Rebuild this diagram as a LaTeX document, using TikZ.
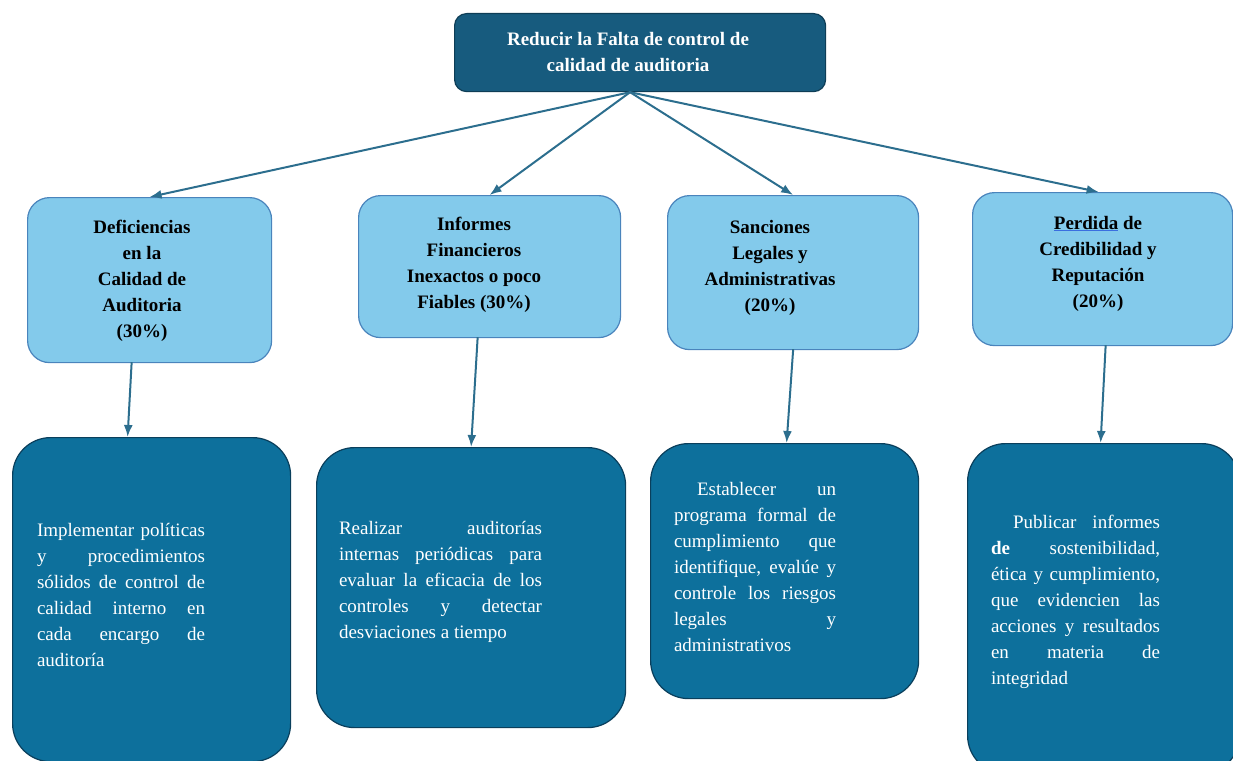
\documentclass[tikz,border=0pt]{standalone}
\usepackage{fontspec}
\setmainfont{Liberation Serif}
\usepackage{xcolor}
\usetikzlibrary{arrows.meta}
\tolerance=10000
\hyphenpenalty=10000
\exhyphenpenalty=10000

\begin{document}
\begin{tikzpicture}[x=1pt,y=-1pt,line cap=rect,
  goalbox/.style={draw=custcol_0e_3d_56, fill=custcol_17_5b_7e, line width=1.2pt, rounded corners=12pt, anchor=north west, inner sep=0},
  causebox/.style={draw=custcol_4a_84_bc, fill=custcol_83_ca_eb, line width=1.2pt, rounded corners=22pt, anchor=north west, inner sep=0},
  actionbox/.style={draw=custcol_0a_3f_5c, fill=custcol_0d_70_9c, line width=1.2pt, rounded corners=38pt, anchor=north west, inner sep=0},
  headtext/.style={inner sep=0, outer sep=0, font=\fontsize{19pt}{26pt}\selectfont\bfseries, align=center, anchor=base},
  bodytext/.style={inner sep=0, outer sep=0, white, font=\fontsize{19pt}{26pt}\selectfont, align=justify, anchor=base west},
  link/.style={custcol_2c_6e_8e, line width=2pt, -{Latex[length=12pt,width=9pt]}}]
\definecolor{custcol_0e_3d_56}{RGB}{14, 61, 86}
\definecolor{custcol_17_5b_7e}{RGB}{23, 91, 126}
\definecolor{custcol_4a_84_bc}{RGB}{74, 132, 188}
\definecolor{custcol_83_ca_eb}{RGB}{131, 202, 235}
\definecolor{custcol_0a_3f_5c}{RGB}{10, 63, 92}
\definecolor{custcol_0d_70_9c}{RGB}{13, 112, 156}
\definecolor{custcol_2c_6e_8e}{RGB}{44, 110, 142}
\definecolor{custcol_3a_6e_e0}{RGB}{58, 110, 224}
\useasboundingbox (0,0) rectangle (1233,760);
\clip (0,0) rectangle (1233,760);
% boxes
\node[goalbox, minimum width=371pt, minimum height=78pt] (meta) at (454,13) {};
\node[causebox, minimum width=244pt, minimum height=165pt] (b1) at (27,197) {};
\node[causebox, minimum width=262pt, minimum height=142pt] (b2) at (358,195) {};
\node[causebox, minimum width=251pt, minimum height=154pt] (b3) at (667,195) {};
\node[causebox, minimum width=260pt, minimum height=153pt] (b4) at (972,192) {};
\node[actionbox, minimum width=278pt, minimum height=324pt] (c1) at (12,437) {};
\node[actionbox, minimum width=309pt, minimum height=280pt] (c2) at (316,447) {};
\node[actionbox, minimum width=268pt, minimum height=255pt] (c3) at (650,443) {};
\node[actionbox, minimum width=272pt, minimum height=330pt] (c4) at (967,443) {};
% texts (base = last line)
\node[headtext, white] (metatxt) at (628,71) {Reducir la Falta de control de\\calidad de auditoria};
\node[headtext] (b1txt) at (142,337) {Deficiencias\\en la\\Calidad de\\Auditoria\\(30\%)};
\node[headtext] (b2txt) at (474,308) {Informes\\Financieros\\Inexactos o poco\\Fiables (30\%)};
\node[headtext] (b3txt) at (770,311) {Sanciones\\Legales y\\Administrativas\\(20\%)};
\node[headtext] (b4txt) at (1098,307) {{\color{custcol_3a_6e_e0}\underline{\color{black}Perdida}} de\\Credibilidad y\\Reputación\\(20\%)};
\node[bodytext, text width=168pt] (c1txt) at (37,536) {Implementar políticas\linebreak y procedimientos\linebreak sólidos de control de\linebreak calidad interno en\linebreak cada encargo de\linebreak auditoría};
\node[bodytext, text width=203pt] (c2txt) at (339,534) {Realizar auditorías\linebreak internas periódicas para\linebreak evaluar la eficacia de los\linebreak controles y detectar\linebreak desviaciones a tiempo};
\node[bodytext, text width=162pt] (c3txt) at (674,495) {\hspace*{23pt}Establecer un\linebreak programa formal de\linebreak cumplimiento que\linebreak identifique, evalúe y\linebreak controle los riesgos\linebreak legales y\linebreak administrativos};
\node[bodytext, text width=169pt] (c4txt) at (991,528) {\hspace*{22pt}Publicar informes\linebreak \textbf{de} sostenibilidad,\linebreak ética y cumplimiento,\linebreak que evidencien las\linebreak acciones y resultados\linebreak en materia de\linebreak integridad};
% connectors
\draw[link] ([xshift=-10pt]meta.south) -- (b1.north);
\draw[link] ([xshift=-10pt]meta.south) -- (b2.north);
\draw[link] ([xshift=-10pt]meta.south) -- (b3.north);
\draw[link] ([xshift=-10pt]meta.south) -- ([xshift=-4pt]b4.north);
\draw[link] ([xshift=-18pt]b1.south) -- ([xshift=-24pt]c1.north);
\draw[link] ([xshift=-12pt]b2.south) -- (c2.north);
\draw[link] (b3.south) -- ([xshift=2pt]c3.north);
\draw[link] ([xshift=3pt]b4.south) -- ([xshift=-3pt]c4.north);
\end{tikzpicture}
\end{document}
